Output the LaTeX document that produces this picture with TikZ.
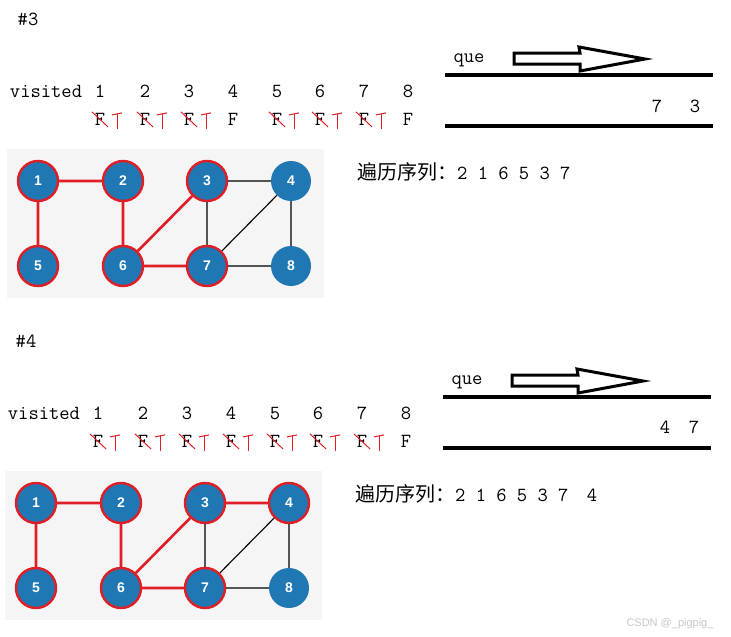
\documentclass[tikz,border=0pt]{standalone}
\usepackage{fontspec}
\setsansfont{Liberation Sans}
\newfontfamily\cjk{Noto Sans CJK SC}
\usetikzlibrary{positioning}
\definecolor{vblue}{HTML}{1F78B4}
\definecolor{pen}{RGB}{224,30,38}
\definecolor{panel}{RGB}{245,245,245}
% red pen: strike out an F and write T beside it
\newcommand{\crossF}[1]{%
  \draw[redpen] ([shift={(-8,-7)}]#1.center) -- ([shift={(8,8)}]#1.center);
  \draw[redpen] ([shift={(12,-4)}]#1.center) -- ([shift={(22,-6)}]#1.center);
  \draw[redpen] ([shift={(17,-5)}]#1.center) -- ([shift={(17,10)}]#1.center);}

\begin{document}
\begin{tikzpicture}[
      x=1pt, y=-1pt,
      every node/.style={font=\ttfamily\fontsize{20}{24}\selectfont},
      txt/.style={anchor=base, inner sep=0pt},
      vtx/.style={circle, fill=vblue, minimum size=40pt, inner sep=0pt, text=white,
                  font=\sffamily\bfseries\fontsize{14}{14}\selectfont},
      seen/.style={draw=pen, line width=2.4pt},
      link/.style={black, line width=1.1pt},
      redlink/.style={pen, line width=2.6pt},
      redpen/.style={pen, line width=1pt},
      qline/.style={line width=3.5pt},
      blockarrow/.style={line width=3pt, line join=miter},
    ]
    \useasboundingbox (0,0) rectangle (731,637);

    % ---------- step #3 ----------
    \node[txt] (h3) at (28,25) {\#3};
    \node[txt] (vis3) at (46,97) {visited};
    \foreach \x [count=\i] in {100,145,189,233,277,320,364,408} {
      \node[txt] (i3\i) at (\x,97) {\i};
      \node[txt] (f3\i) at (\x,125) {F};
    }
    \foreach \i in {1,2,3,5,6,7} {\crossF{f3\i}}

    % queue
    \node[txt] (que3) at (469,62) {que};
    \draw[blockarrow] (514,53) -- (580,53) -- (579,47) -- (645,59) -- (580,71)
      -- (580,64) -- (514,64) -- cycle;
    \draw[qline] (445,75) -- (713,75);
    \draw[qline] (445,126) -- (713,126);
    \node[txt] (q31) at (657,112) {7};
    \node[txt] (q32) at (695,112) {3};

    % graph
    \fill[panel] (7,149) rectangle (324,298);
    \node[vtx, seen] (a1) at (38,181) {1};
    \node[vtx, seen] (a2) at (123,181) {2};
    \node[vtx, seen] (a3) at (207,181) {3};
    \node[vtx] (a4) at (291,181) {4};
    \node[vtx, seen] (a5) at (38,266) {5};
    \node[vtx, seen] (a6) at (123,266) {6};
    \node[vtx, seen] (a7) at (207,266) {7};
    \node[vtx] (a8) at (291,266) {8};
    \draw[link] (a1) -- (a2) (a1) -- (a5) (a2) -- (a6) (a3) -- (a6) (a3) -- (a4)
      (a3) -- (a7) (a4) -- (a7) (a4) -- (a8) (a6) -- (a7) (a7) -- (a8);
    \draw[redlink] (a1) -- (a2) (a1) -- (a5) (a2) -- (a6) (a6) -- (a3) (a6) -- (a7);

    \node[txt, anchor=base west] (seq3) at (357,179) {{\cjk 遍历序列：}2 1 6 5 3 7};

    % ---------- step #4 ----------
    \begin{scope}[shift={(-2,322)}]
      \node[txt] (h4) at (28,25) {\#4};
      \node[txt] (vis4) at (46,97) {visited};
      \foreach \x [count=\i] in {100,145,189,233,277,320,364,408} {
        \node[txt] (i4\i) at (\x,97) {\i};
        \node[txt] (f4\i) at (\x,125) {F};
      }
      \foreach \i in {1,...,7} {\crossF{f4\i}}

      % queue
      \node[txt] (que4) at (469,62) {que};
      \draw[blockarrow] (514,53) -- (580,53) -- (579,47) -- (645,59) -- (580,71)
        -- (580,64) -- (514,64) -- cycle;
      \draw[qline] (445,75) -- (713,75);
      \draw[qline] (445,126) -- (713,126);
      \node[txt] (q41) at (667,111) {4};
      \node[txt] (q42) at (696,111) {7};

      % graph
      \fill[panel] (7,149) rectangle (324,298);
      \node[vtx, seen] (b1) at (38,181) {1};
      \node[vtx, seen] (b2) at (123,181) {2};
      \node[vtx, seen] (b3) at (207,181) {3};
      \node[vtx, seen] (b4) at (291,181) {4};
      \node[vtx, seen] (b5) at (38,266) {5};
      \node[vtx, seen] (b6) at (123,266) {6};
      \node[vtx, seen] (b7) at (207,266) {7};
      \node[vtx] (b8) at (291,266) {8};
      \draw[link] (b1) -- (b2) (b1) -- (b5) (b2) -- (b6) (b3) -- (b6) (b3) -- (b4)
        (b3) -- (b7) (b4) -- (b7) (b4) -- (b8) (b6) -- (b7) (b7) -- (b8);
      \draw[redlink] (b1) -- (b2) (b1) -- (b5) (b2) -- (b6) (b6) -- (b3) (b6) -- (b7)
        (b3) -- (b4);

      \node[txt, anchor=base west] (seq4) at (357,179)
        {{\cjk 遍历序列：}2 1 6 5 3 7 \hspace{8pt}4};
    \end{scope}

    \node[font=\sffamily\fontsize{11}{11}\selectfont, text=gray!45] (mark) at (670,624)
      {CSDN @\_pigpig\_};
  \end{tikzpicture}
\end{document}
